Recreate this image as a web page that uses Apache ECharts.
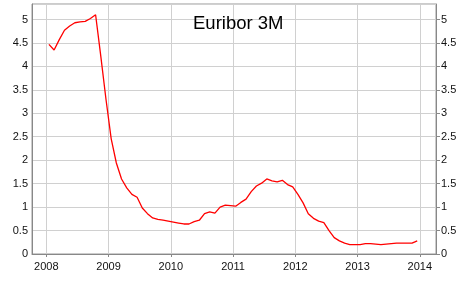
<!DOCTYPE html>
<html>
<head>
<meta charset="utf-8">
<script src="https://cdn.jsdelivr.net/npm/echarts@6/dist/echarts.min.js"></script>
<style>html,body{margin:0;padding:0;background:#fff;}#c{width:466px;height:297px;}</style>
</head>
<body>
<div id="c"></div>
<script>
var years = [2008, 2009, 2010, 2011, 2012, 2013];
var yearTicks = [2008, 2009, 2010, 2011, 2012, 2013, 2014];
var rate2008 = [4.47, 4.35, 4.57, 4.77, 4.86, 4.93, 4.95, 4.96, 5.02, 5.10, 4.22, 3.30];
var rate2009 = [2.46, 1.94, 1.60, 1.41, 1.27, 1.21, 0.98, 0.86, 0.77, 0.74, 0.72, 0.70];
var rate2010 = [0.68, 0.66, 0.64, 0.64, 0.69, 0.72, 0.86, 0.90, 0.87, 1.00, 1.04, 1.03];
var rate2011 = [1.02, 1.10, 1.17, 1.33, 1.45, 1.51, 1.60, 1.56, 1.54, 1.57, 1.48, 1.43];
var rate2012 = [1.27, 1.09, 0.86, 0.76, 0.70, 0.67, 0.50, 0.35, 0.28, 0.23, 0.20, 0.20];
var rate2013 = [0.20, 0.22, 0.22, 0.21, 0.20, 0.21, 0.22, 0.23, 0.23, 0.23, 0.23, 0.28];
var rates = [rate2008, rate2009, rate2010, rate2011, rate2012, rate2013];

var data = [];
years.forEach(function (y, i) {
  rates[i].forEach(function (v, m) {
    data.push([y + (m + 0.5) / 12, v]);
  });
});

var labelFont = { fontFamily: 'Liberation Sans, Arial, sans-serif', fontSize: 11, color: '#111' };
var chart = echarts.init(document.getElementById('c'), null, { renderer: 'canvas' });
chart.setOption({
  animation: false,
  backgroundColor: '#fff',
  title: {
    text: 'Euribor 3M',
    left: 193,
    top: 14,
    padding: 0,
    textStyle: { fontFamily: 'Liberation Sans, Arial, sans-serif', fontSize: 18.5, fontWeight: 'normal', color: '#000' }
  },
  grid: { left: 32, right: 30, top: 4, bottom: 43, show: true, borderColor: '#999', borderWidth: 1, backgroundColor: 'transparent' },
  xAxis: {
    type: 'value',
    min: 2007.77,
    max: 2014.26,
    axisLine: { show: true, lineStyle: { color: '#888' } },
    axisTick: { show: true, length: 3, lineStyle: { color: '#888' }, customValues: yearTicks },
    axisLabel: Object.assign({ margin: 7, customValues: yearTicks, formatter: function (v) { return String(Math.round(v)); } }, labelFont),
    splitLine: { show: true, lineStyle: { color: '#d0d0d0' } }
  },
  yAxis: [{
    type: 'value', min: 0, max: 5.33, interval: 0.5, position: 'left',
    axisLine: { show: true, lineStyle: { color: '#888' } },
    axisTick: { show: false },
    axisLabel: Object.assign({ margin: 4, showMaxLabel: false, formatter: function (v) { return String(v); } }, labelFont),
    splitLine: { show: true, lineStyle: { color: '#d0d0d0' } }
  }, {
    type: 'value', min: 0, max: 5.33, interval: 0.5, position: 'right',
    axisLine: { show: true, lineStyle: { color: '#888' } },
    axisTick: { show: true, inside: false, length: 4, lineStyle: { color: '#888' } },
    axisLabel: Object.assign({ margin: 5, showMaxLabel: false, formatter: function (v) { return String(v); } }, labelFont),
    splitLine: { show: false }
  }],
  series: [{
    type: 'line',
    data: data,
    showSymbol: false,
    symbol: 'none',
    lineStyle: { color: '#ff0000', width: 1.3 },
    itemStyle: { color: '#ff0000' }
  }]
});
</script>
</body>
</html>
